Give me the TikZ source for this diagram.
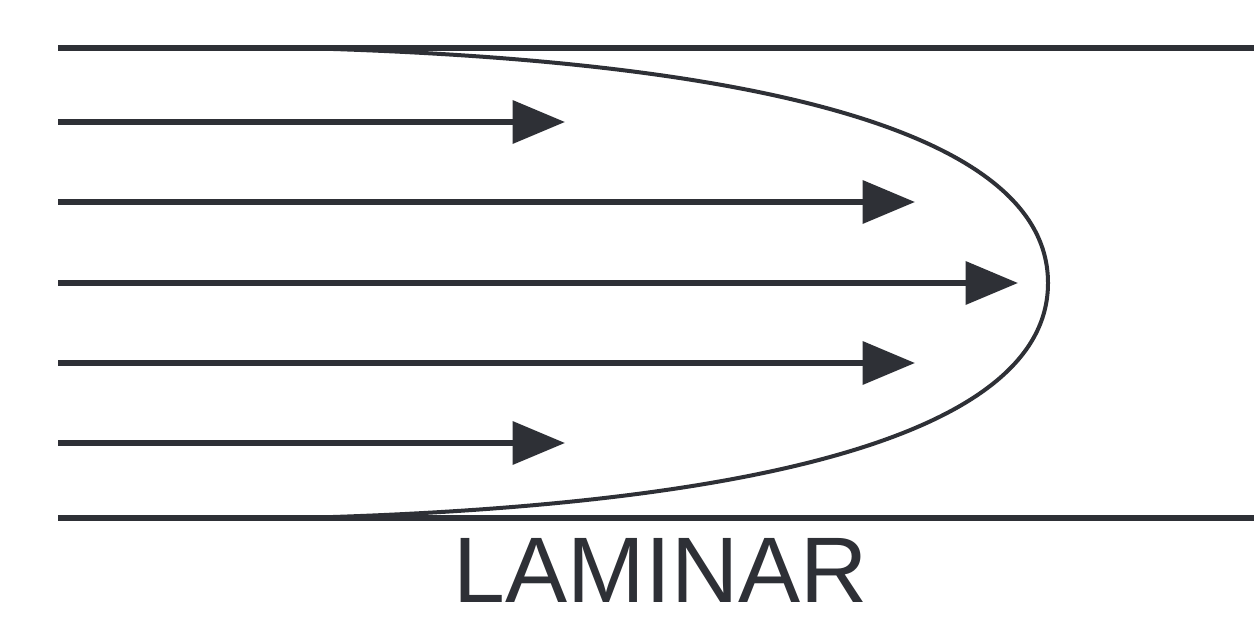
\documentclass[tikz,border=0pt]{standalone}
\usepackage{fontspec}
\setmainfont{Liberation Sans}
\usepackage{xcolor}
\usetikzlibrary{arrows.meta}
\definecolor{ink}{HTML}{2E3036}

\begin{document}
\begin{tikzpicture}[
    wall/.style={ink, line width=0.12cm},
    flow/.style={ink, line width=0.11cm, -{Triangle[length=1.05cm,width=0.85cm]}},
    profile/.style={ink, line width=0.08cm}
  ]
    \useasboundingbox (0,0) rectangle (25.08,12.38);

    % Walls
    \coordinate (topL) at (1.16,11.42);
    \coordinate (topR) at (25.08,11.42);
    \coordinate (botL) at (1.16,2.02);
    \coordinate (botR) at (25.08,2.02);
    \draw[wall] (topL) -- (topR);
    \draw[wall] (botL) -- (botR);

    % Velocity profile
    \coordinate (pTop) at (6,11.42);
    \coordinate (pTip) at (20.96,6.72);
    \coordinate (pBot) at (6,2.02);
    \draw[profile] (pTop) .. controls (15,11.18) and (20.96,9.78) .. (pTip)
                          .. controls (20.96,3.66) and (15,2.26) .. (pBot);

    % Flow arrows
    \coordinate (s1) at (1.16,9.94);  \coordinate (e1) at (11.3,9.94);
    \coordinate (s2) at (1.16,8.34);  \coordinate (e2) at (18.3,8.34);
    \coordinate (s3) at (1.16,6.72);  \coordinate (e3) at (20.36,6.72);
    \coordinate (s4) at (1.16,5.12);  \coordinate (e4) at (18.3,5.12);
    \coordinate (s5) at (1.16,3.52);  \coordinate (e5) at (11.3,3.52);
    \draw[flow] (s1) -- (e1);
    \draw[flow] (s2) -- (e2);
    \draw[flow] (s3) -- (e3);
    \draw[flow] (s4) -- (e4);
    \draw[flow] (s5) -- (e5);

    % Label
    \node[anchor=base, text=ink, font=\fontsize{53}{60}\selectfont, inner sep=0pt] (title) at (13.22,0.34) {LAMINAR};
\end{tikzpicture}
\end{document}
